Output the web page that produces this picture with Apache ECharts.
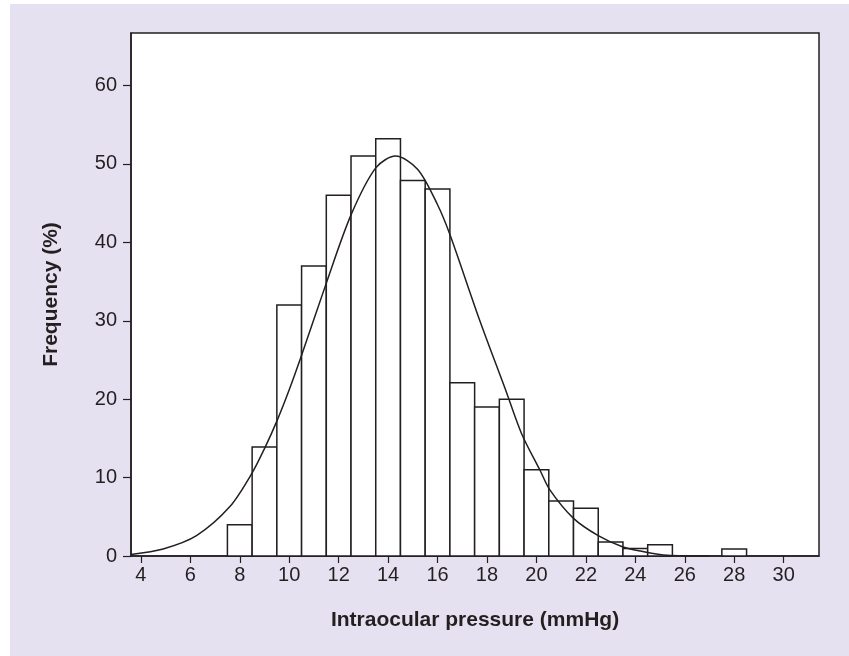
<!DOCTYPE html>
<html lang="en">
<head>
  <meta charset="UTF-8">
  <title>Intraocular pressure histogram</title>
  <style>
    body { margin: 0; background: #fff; }
    #main {
      width: 849px; height: 656px;
      background: linear-gradient(#e6e1f0, #e6e1f0) 10px 4px / 839px 652px no-repeat, #fff;
    }
  </style>
</head>
<body>
<div id="main"></div>

<script src="https://cdn.jsdelivr.net/npm/echarts@6.0.0/dist/echarts.min.js"></script>

<script>
  // histogram bins (centre of 1 mmHg bin) and frequency (%)
  var binCentres = [8, 9, 10, 11, 12, 13, 14, 15, 16, 17, 18, 19, 20, 21, 22, 23, 24, 25, 26, 27, 28];
  var binFreq    = [4, 13.9, 32, 37, 46, 51, 53.2, 47.9, 46.8, 22.1, 19, 20, 11, 7, 6.1, 1.8, 0.95, 1.45, 0, 0, 0.9];

  // fitted curve, points
  var curveX = [3.6, 4.9, 6.25, 7.6, 8.5, 9.0, 9.5, 10.0, 10.5, 11.5, 12.5, 13.5, 14.3, 15.2, 16.0, 16.5, 17.7, 18.75, 19.4, 20.15, 20.55, 21.5, 22.5, 23.5, 24.2, 25.3, 27.0];
  var curveY = [0.2, 0.9, 2.6, 6.3, 10.6, 13.7, 17.2, 21.2, 25.6, 34.8, 43.5, 49.5, 51.0, 49.3, 44.8, 41.0, 30.1, 21.2, 15.6, 10.9, 8.4, 4.8, 2.6, 1.15, 0.64, 0.1, 0];

  var xTicks = [4, 6, 8, 10, 12, 14, 16, 18, 20, 22, 24, 26, 28, 30];
  var yTicks = [0, 10, 20, 30, 40, 50, 60];

  var chart = echarts.init(document.getElementById('main'));

  var textColor = '#231f20';
  var lineColor = '#231f20';

  var option = {
    backgroundColor: 'transparent',
    animation: false,
    grid: {
      left: 131, right: 30, top: 33, bottom: 100,
      show: true,
      backgroundColor: '#fff',
      borderColor: lineColor,
      borderWidth: 1.5,
      outerBoundsMode: 'none'
    },
    xAxis: {
      type: 'value',
      min: 3.6,
      max: 31.43,
      name: 'Intraocular pressure (mmHg)',
      nameLocation: 'middle',
      nameGap: 54,
      nameTextStyle: { fontFamily: 'Liberation Sans', fontWeight: 'bold', fontSize: 21, color: textColor },
      splitLine: { show: false },
      axisLine: { onZero: false, lineStyle: { color: lineColor, width: 1.5 } },
      axisTick: { show: true, length: 7, customValues: xTicks, lineStyle: { color: lineColor, width: 1.2 } },
      axisLabel: { customValues: xTicks, margin: 9, fontFamily: 'Liberation Sans', fontSize: 20, color: textColor }
    },
    yAxis: {
      type: 'value',
      min: 0,
      max: 66.7,
      name: 'Frequency (%)',
      nameLocation: 'middle',
      nameGap: 69,
      nameTextStyle: { fontFamily: 'Liberation Sans', fontWeight: 'bold', fontSize: 21, color: textColor },
      splitLine: { show: false },
      axisLine: { show: true, lineStyle: { color: lineColor, width: 1.5 } },
      axisTick: { show: true, length: 8, customValues: yTicks, lineStyle: { color: lineColor, width: 1.2 } },
      axisLabel: { customValues: yTicks, margin: 14, fontFamily: 'Liberation Sans', fontSize: 20, color: textColor }
    },
    series: [
      {
        type: 'custom',
        data: binCentres.map(function (c, i) { return [c, binFreq[i]]; }),
        renderItem: function (params, api) {
          var x = api.value(0), y = api.value(1);
          if (y <= 0) return;
          var p0 = api.coord([x - 0.5, y]);
          var p1 = api.coord([x + 0.5, 0]);
          return {
            type: 'rect',
            shape: { x: p0[0], y: p0[1], width: p1[0] - p0[0], height: p1[1] - p0[1] },
            style: { fill: '#fff', stroke: lineColor, lineWidth: 1.5 }
          };
        },
        z: 2
      },
      {
        type: 'line',
        data: curveX.map(function (x, i) { return [x, curveY[i]]; }),
        smooth: 0.3,
        symbol: 'none',
        lineStyle: { color: lineColor, width: 1.5 },
        z: 3
      }
    ]
  };

  chart.setOption(option);
</script>
</body>
</html>
